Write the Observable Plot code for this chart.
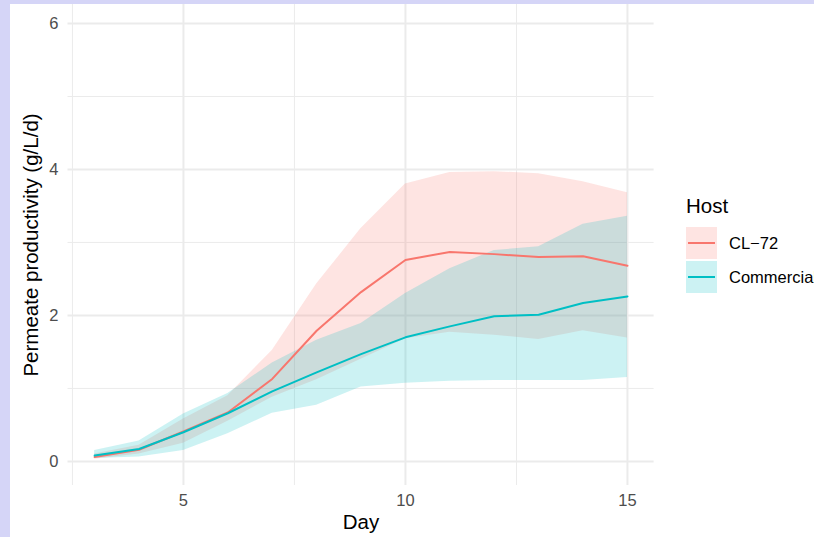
<!DOCTYPE html>
<html><head><meta charset="utf-8">
<script src="https://cdn.jsdelivr.net/npm/d3@7"></script>
<script src="https://cdn.jsdelivr.net/npm/@observablehq/plot@0.6"></script>
<style>
html,body{margin:0;padding:0;width:814px;height:537px;overflow:hidden;background:#d5d5f7;font-family:"Liberation Sans",Arial,sans-serif;}
#panel{position:absolute;left:10px;top:4px;width:804px;height:533px;background:#fff;overflow:hidden;}
#chart{position:absolute;left:0;top:0;}
#legend{position:absolute;left:676px;top:190px;white-space:nowrap;}
.lt{font-size:20.5px;color:#000;height:24px;line-height:24px;margin-bottom:9px;}
.li{display:flex;align-items:center;height:32px;margin-bottom:2px;}
.li span{font-size:16.5px;color:#000;margin-left:12px;}
</style></head><body><div id="panel"><div id="chart"></div><div id="legend"></div></div>
<script>
const days = [3,4,5,6,7,8,9,10,11,12,13,14,15];
const hosts = ["CL\u221272","Commercial"];
const hostColors = ["#F8766D","#00BFC4"];
const cl72Mean  = [0.06,0.16,0.41,0.67,1.13,1.79,2.32,2.76,2.87,2.84,2.80,2.81,2.68];
const cl72Upper = [0.10,0.22,0.58,0.90,1.52,2.43,3.19,3.80,3.96,3.97,3.94,3.83,3.68];
const cl72Lower = [0.03,0.10,0.25,0.55,0.88,1.12,1.40,1.68,1.77,1.73,1.67,1.79,1.69];
const comMean   = [0.08,0.17,0.40,0.66,0.96,1.22,1.47,1.70,1.85,1.99,2.01,2.17,2.26];
const comUpper  = [0.15,0.28,0.65,0.93,1.35,1.66,1.89,2.30,2.64,2.89,2.94,3.25,3.36];
const comLower  = [0.04,0.06,0.15,0.38,0.66,0.77,1.02,1.07,1.10,1.11,1.11,1.11,1.15];
const xMajor = [5,10,15];
const xMinor = [2.5,7.5,12.5];
const yMajor = [0,2,4,6];
const yMinor = [1,3,5];

const series = [
  {host: hosts[0], mean: cl72Mean, lo: cl72Lower, hi: cl72Upper},
  {host: hosts[1], mean: comMean, lo: comLower, hi: comUpper}
];
const rows = series.flatMap(s => days.map((d, i) => ({host: s.host, day: d, mean: s.mean[i], lo: s.lo[i], hi: s.hi[i]})));

const font = '"Liberation Sans", Arial, sans-serif';
const chart = Plot.plot({
  width: 804, height: 533,
  marginLeft: 57.5, marginRight: 160.4, marginTop: 0, marginBottom: 52,
  style: {background: "transparent", fontFamily: font, overflow: "visible"},
  x: {domain: [2.4, 15.6]},
  y: {domain: [-0.33, 6.26]},
  color: {domain: hosts, range: hostColors},
  marks: [
    Plot.ruleX(xMinor, {stroke: "#ebebeb", strokeWidth: 1}),
    Plot.ruleY(yMinor, {stroke: "#ebebeb", strokeWidth: 1}),
    Plot.ruleX(xMajor, {stroke: "#ebebeb", strokeWidth: 2}),
    Plot.ruleY(yMajor, {stroke: "#ebebeb", strokeWidth: 2}),
    Plot.areaY(rows, {x: "day", y1: "lo", y2: "hi", z: "host", fill: "host", fillOpacity: 0.2}),
    Plot.lineY(rows, {x: "day", y: "mean", z: "host", stroke: "host", strokeWidth: 2}),
    Plot.axisX({ticks: xMajor, tickSize: 0, tickPadding: 9, tickFormat: d => String(d), label: null, fontSize: 16.5, color: "#4d4d4d"}),
    Plot.axisY({ticks: yMajor, tickSize: 0, tickPadding: 9.5, tickFormat: d => String(d), label: null, fontSize: 16.5, color: "#4d4d4d"}),
    Plot.text(["Day"], {text: d => d, frameAnchor: "bottom", textAnchor: "middle", lineAnchor: "middle", dy: 37, fontSize: 20.5, fill: "#000"}),
    Plot.text(["Permeate productivity (g/L/d)"], {text: d => d, frameAnchor: "left", textAnchor: "middle", lineAnchor: "middle", dx: -36.5, dy: 0, rotate: -90, fontSize: 20.5, fill: "#000"})
  ]
});
document.getElementById("chart").appendChild(chart);

const lg = document.getElementById("legend");
const t = document.createElement("div"); t.className = "lt"; t.textContent = "Host"; lg.appendChild(t);
hosts.forEach((h, i) => {
  const c = hostColors[i];
  const row = document.createElement("div"); row.className = "li";
  row.innerHTML = `<svg width="31" height="32"><rect x="0" y="0" width="31" height="32" fill="${c}" fill-opacity="0.2"></rect><line x1="2" x2="29" y1="16" y2="16" stroke="${c}" stroke-width="2"></line></svg><span></span>`;
  row.querySelector("span").textContent = h;
  lg.appendChild(row);
});
</script></body></html>
